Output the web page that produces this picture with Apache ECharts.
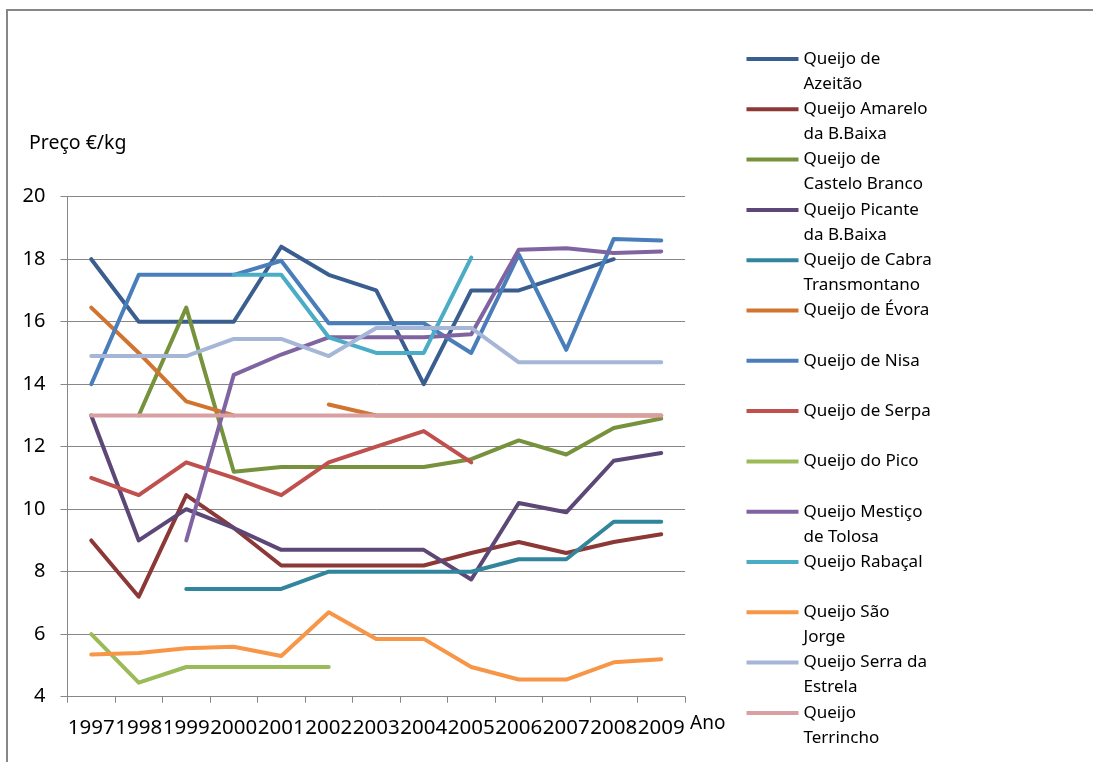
<!DOCTYPE html>
<html>
<head>
<meta charset="utf-8">
<script src="https://cdn.jsdelivr.net/npm/echarts@6/dist/echarts.min.js"></script>
<style>
  html, body { margin: 0; padding: 0; background: #ffffff; }
  #chart { width: 1093px; height: 762px; }
</style>
</head>
<body>
<div id="chart"></div>
<script>
// ---- data ----
const years = ['1997','1998','1999','2000','2001','2002','2003','2004','2005','2006','2007','2008','2009'];
const yTitle = 'Preço €/kg';
const xTitle = 'Ano';

const azeitao      = [18, 16, 16, 16, 18.4, 17.5, 17, 14, 17, 17, 17.5, 18, null];
const amarelo      = [9, 7.2, 10.45, 9.4, 8.2, 8.2, 8.2, 8.2, 8.6, 8.95, 8.6, 8.95, 9.2];
const casteloBranco= [null, 13, 16.45, 11.2, 11.35, 11.35, 11.35, 11.35, 11.6, 12.2, 11.75, 12.6, 12.9];
const picante      = [13, 9, 10, 9.4, 8.7, 8.7, 8.7, 8.7, 7.75, 10.2, 9.9, 11.55, 11.8];
const cabra        = [null, null, 7.45, 7.45, 7.45, 8, 8, 8, 8, 8.4, 8.4, 9.6, 9.6];
const evora        = [16.45, 15, 13.45, 13, null, 13.35, 13, 13, 13, 13, 13, 13, 13];
const nisa         = [14, 17.5, 17.5, 17.5, 17.95, 15.95, 15.95, 15.95, 15, 18.15, 15.1, 18.65, 18.6];
const serpa        = [11, 10.45, 11.5, 11, 10.45, 11.5, 12, 12.5, 11.5, null, null, null, null];
const pico         = [6, 4.45, 4.95, 4.95, 4.95, 4.95, null, null, null, null, null, null, null];
const mestico      = [null, null, 9, 14.3, 14.95, 15.5, 15.5, 15.5, 15.6, 18.3, 18.35, 18.2, 18.25];
const rabacal      = [null, null, null, 17.5, 17.5, 15.5, 15, 15, 18.05, null, null, null, null];
const saoJorge     = [5.35, 5.4, 5.55, 5.6, 5.3, 6.7, 5.85, 5.85, 4.95, 4.55, 4.55, 5.1, 5.2];
const serraEstrela = [14.9, 14.9, 14.9, 15.45, 15.45, 14.9, 15.8, 15.8, 15.8, 14.7, 14.7, 14.7, 14.7];
const terrincho    = [13, 13, 13, 13, 13, 13, 13, 13, 13, 13, 13, 13, 13];

const seriesNames = [
  'Queijo de Azeitão', 'Queijo Amarelo da B.Baixa', 'Queijo de Castelo Branco',
  'Queijo Picante da B.Baixa', 'Queijo de Cabra Transmontano', 'Queijo de Évora',
  'Queijo de Nisa', 'Queijo de Serpa', 'Queijo do Pico', 'Queijo Mestiço de Tolosa',
  'Queijo Rabaçal', 'Queijo São Jorge', 'Queijo Serra da Estrela', 'Queijo Terrincho'
];
const legendLabels = [
  'Queijo de\nAzeitão', 'Queijo Amarelo\nda B.Baixa', 'Queijo de\nCastelo Branco',
  'Queijo Picante\nda B.Baixa', 'Queijo de Cabra\nTransmontano', 'Queijo de Évora',
  'Queijo de Nisa', 'Queijo de Serpa', 'Queijo do Pico', 'Queijo Mestiço\nde Tolosa',
  'Queijo Rabaçal', 'Queijo São\nJorge', 'Queijo Serra da\nEstrela', 'Queijo\nTerrincho'
];
const seriesData = [azeitao, amarelo, casteloBranco, picante, cabra, evora, nisa,
  serpa, pico, mestico, rabacal, saoJorge, serraEstrela, terrincho];
const colors = ['#3A5E8F', '#8C3836', '#76923C', '#5C4776', '#31859C', '#D0742F',
  '#4A7EBB', '#C0504D', '#9BBB59', '#8064A2', '#4BACC6', '#F79646', '#A5B6D6', '#D9A0A3'];

// ---- chart ----
const FONT = 'Noto Sans';
const grey = '#878787';
const chart = echarts.init(document.getElementById('chart'), null, { renderer: 'canvas' });

const series = seriesNames.map((name, i) => ({
  name: name,
  type: 'line',
  data: seriesData[i],
  symbol: 'none',
  connectNulls: false,
  lineStyle: { width: 4, color: colors[i], cap: 'round', join: 'round' },
  itemStyle: { color: colors[i] },
  emphasis: { disabled: true }
}));

chart.setOption({
  animation: false,
  backgroundColor: '#ffffff',
  color: colors,
  graphic: [{
    type: 'polyline',
    z: -10,
    shape: { points: [[7, 800], [7, 10], [1110, 10]] },
    style: { fill: 'none', stroke: grey, lineWidth: 2 }
  }],
  title: [{
    text: yTitle,
    left: 24,
    top: 128,
    textStyle: { fontFamily: FONT, fontSize: 19.5, fontWeight: 'normal', color: '#000' }
  }, {
    text: xTitle,
    left: 685,
    top: 709,
    textStyle: { fontFamily: FONT, fontSize: 19, fontWeight: 'normal', color: '#000' }
  }],
  legend: {
    orient: 'vertical',
    left: 741.5,
    top: 41.5,
    itemWidth: 52,
    itemHeight: 50,
    itemGap: 0.3,
    icon: 'path://M0,0 L0.001,0 L0,0 Z M0,10.5 L52,10.5 L52,14.5 L0,14.5 Z M0,50 L0.001,50 L0,50 Z',
    itemStyle: { borderWidth: 0 },
    selectedMode: false,
    data: seriesNames,
    formatter: function (name) {
      const lbl = legendLabels[seriesNames.indexOf(name)];
      return lbl.indexOf('\n') >= 0 ? lbl : lbl + '\n ';
    },
    textStyle: { fontFamily: FONT, fontSize: 17, lineHeight: 25, color: '#000' }
  },
  grid: { left: 67.5, right: 408, top: 196.7, bottom: 65.3, containLabel: false },
  xAxis: {
    type: 'category',
    data: years,
    boundaryGap: true,
    axisLine: { show: true, lineStyle: { color: grey, width: 1 } },
    axisTick: { show: true, length: 6, alignWithLabel: false, interval: 0, lineStyle: { color: grey } },
    axisLabel: { interval: 0, margin: 21, fontFamily: FONT, fontSize: 20.5, color: '#000', hideOverlap: false },
    splitLine: { show: false }
  },
  yAxis: {
    type: 'value',
    min: 4,
    max: 20,
    interval: 2,
    axisLine: { show: true, lineStyle: { color: grey, width: 1 } },
    axisTick: { show: true, length: 7, lineStyle: { color: grey } },
    axisLabel: { margin: 22, fontFamily: FONT, fontSize: 20, color: '#000' },
    splitLine: { show: true, lineStyle: { color: grey, width: 1 } }
  },
  series: series
});
</script>
</body>
</html>
